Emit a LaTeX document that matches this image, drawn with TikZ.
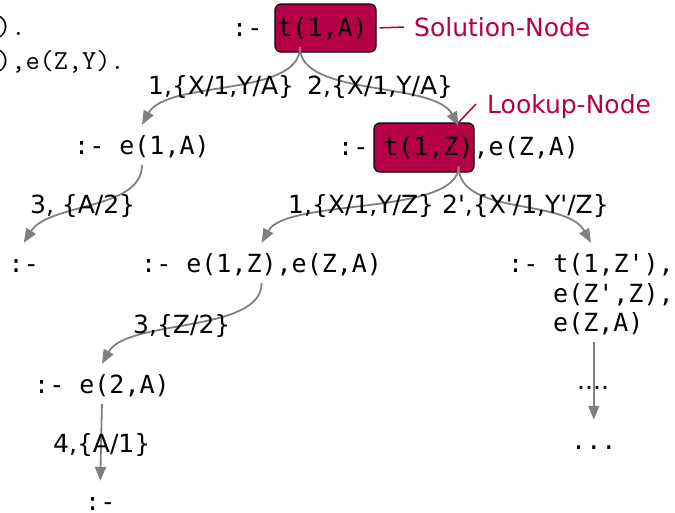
\documentclass[tikz,border=0pt]{standalone}
\usepackage{fontspec}
\setmainfont{DejaVu Sans}
\newfontfamily\dvm{DejaVu Sans Mono}
\usetikzlibrary{arrows.meta}
\definecolor{crim}{RGB}{181,0,72}
\definecolor{edgegray}{RGB}{128,128,128}
\newcommand{\q}{\textquotesingle}
\begin{document}
\begin{tikzpicture}[x=1pt,y=-1pt,
  code/.style={font=\dvm\fontsize{25}{30}\selectfont, anchor=base west, inner xsep=0pt, inner ysep=6pt, text height=23pt, text depth=5pt},
  prog/.style={font=\ttfamily\fontsize{27.5}{32}\selectfont, anchor=base west, inner sep=0pt},
  lbl/.style={font=\fontsize{25}{30}\selectfont, anchor=base west, inner sep=0pt},
  hl/.style={draw=black, line width=1.2pt, fill=crim, rounded corners=6pt, inner sep=0pt},
  conn/.style={draw=edgegray, line width=1.8pt, -{Triangle[length=14pt,width=11pt]}},
  note/.style={lbl, text=crim},
  noteline/.style={draw=crim, line width=1.5pt},
]
\useasboundingbox (0,0) rectangle (675,512);
\clip (0,0) rectangle (675,512);
% program text (cut at the left edge)
\node[prog] (p1) at (-3,35) {).};
\node[prog] (p2) at (-3,69) {),e(Z,Y).};
% highlight boxes
\node[hl, minimum width=101pt, minimum height=48pt] (b0) at (325.5,28) {};
\node[hl, minimum width=100pt, minimum height=49pt] (b1) at (424,147.5) {};
% goal nodes
\node[code] (n0) at (232,36) {:- t(1,A)};
\node[code] (n1) at (74,154) {:- e(1,A)};
\node[code] (n2) at (338,155) {:- t(1,Z),e(Z,A)};
\node[code] (n3) at (8.5,272) {:-};
\node[code] (n4) at (141,272) {:- e(1,Z),e(Z,A)};
\node[code] (n5) at (508,272) {:- t(1,Z\q),};
\node[code] (n5b) at (553,302) {e(Z\q,Z),};
\node[code] (n5c) at (553,331) {e(Z,A)};
\node[code] (n6) at (34,393) {:- e(2,A)};
\node[code, inner ysep=0pt, text height=29pt, text depth=0pt] (n7) at (85,510) {:-};
\node[code] (n8) at (571,449) {...};
% connectors
\draw[conn] (n0.south) .. controls +(0,50) and +(25,-45) .. (n1.north);
\draw[conn] (n0.south) .. controls +(0,50) and +(-25,-45) .. (n2.north);
\draw[conn] (n1.south) .. controls +(0,45) and +(25,-40) .. (n3.north);
\draw[conn] (n2.south) .. controls +(0,50) and +(25,-45) .. (n4.north);
\draw[conn] (n2.south) .. controls +(0,50) and +(-25,-45) .. (n5.north);
\draw[conn] (n4.south) .. controls +(0,50) and +(25,-45) .. (n6.north);
\draw[conn] (n6.south) -- (n7.north);
\draw[conn] (n5c.south -| n8.north) -- (n8.north);
% edge labels
\node[lbl] (l1) at (148,94) {1,\{X/1,Y/A\}};
\node[lbl] (l2) at (307,94) {2,\{X/1,Y/A\}};
\node[lbl] (l3) at (30,213) {3, \{A/2\}};
\node[lbl] (l4) at (288,213) {1,\{X/1,Y/Z\}};
\node[lbl] (l5) at (442,213) {2\q,\{X\q/1,Y\q/Z\}};
\node[lbl] (l6) at (133,333) {3,\{Z/2\}};
\node[lbl] (l7) at (53,452) {4,\{A/1\}};
\node[lbl] (l8) at (577,389) {....};
% annotations
\node[note] (sn) at (414,36) {Solution-Node};
\node[note] (ln) at (487,113) {Lookup-Node};
\draw[noteline, shorten <=3pt, shorten >=10pt] (b0.east) -- (sn.west);
\draw[noteline] (b1.north -| n2.north) -- ([shift={(-11,-9)}]ln.base west);
\end{tikzpicture}
\end{document}
